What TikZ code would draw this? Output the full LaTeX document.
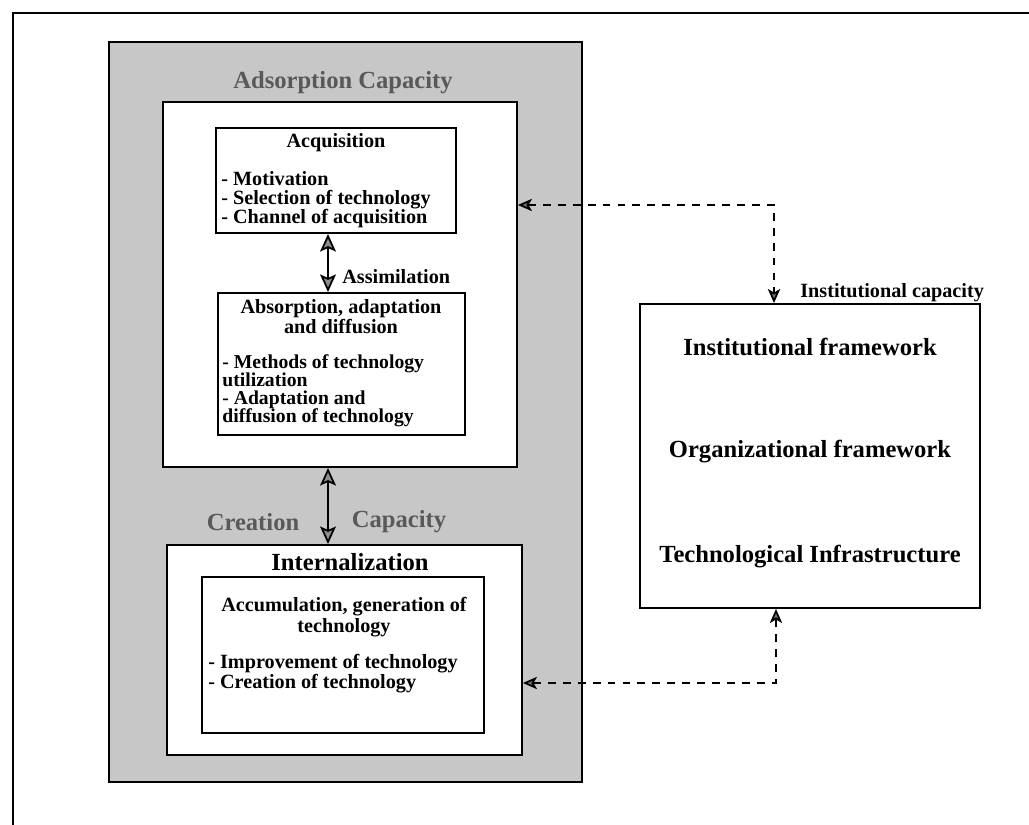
\documentclass[tikz,border=0pt]{standalone}
\usepackage{fontspec}
\setmainfont{Liberation Serif}
\usetikzlibrary{arrows.meta,positioning}

\begin{document}
\begin{tikzpicture}[x=0.02cm,y=-0.02cm,
        box/.style={draw,line width=1.1pt,fill=white,inner sep=0pt},
        txt/.style={inner sep=0pt,font=\fontsize{11.5}{10.5}\selectfont\bfseries},
        head/.style={inner sep=0pt,font=\fontsize{14}{16}\selectfont\bfseries},
        grayhead/.style={head,text=black!65},
        dbl/.style={line width=1pt,{Stealth[length=10pt,width=9pt,inset=2pt,fill=black!45]}-{Stealth[length=10pt,width=9pt,inset=2pt,fill=black!45]}},
        link/.style={line width=1pt,dash pattern=on 4.5pt off 4pt,{Stealth[length=8pt,width=7pt,inset=2pt,fill=black!55]}-{Stealth[length=8pt,width=7pt,inset=2pt,fill=black!55]}}]
        \useasboundingbox (0,0) rectangle (1029,825);
        \draw[line width=1pt] (1029,13) -- (13,13) -- (13,825);

        \node[box,fill=black!22,minimum width=9.46cm,minimum height=14.8cm] (cap) at (345.5,412) {};
        \node[box,minimum width=7.08cm,minimum height=7.3cm] (absbox) at (340,284.5) {};
        \node[box,minimum width=7.1cm,minimum height=4.2cm] (intbox) at (344.5,650) {};
        \node[box,minimum width=4.8cm,minimum height=2.1cm] (acq) at (336,180.5) {};
        \node[box,minimum width=4.94cm,minimum height=2.84cm] (adapt) at (341.5,364) {};
        \node[box,minimum width=5.64cm,minimum height=3.12cm] (accum) at (343,655) {};
        \node[box,minimum width=6.8cm,minimum height=6.08cm] (inst) at (810,456) {};

        \node[grayhead] (captitle) at (343,83) {Adsorption Capacity};
        \node[txt] (acqtitle) at (336,143) {Acquisition};
        \node[txt,align=left,anchor=west,font=\fontsize{11.5}{10.8}\selectfont\bfseries] (acqlist) at (221,200) {- Motivation\\- Selection of technology\\- Channel of acquisition};
        \node[txt,anchor=west] (assim) at (342,277) {Assimilation};
        \node[txt,align=center,font=\fontsize{11.5}{10}\selectfont\bfseries] (adapttitle) at (341,316.5) {Absorption, adaptation\\and diffusion};
        \node[txt,align=left,anchor=west,font=\fontsize{11.2}{10.3}\selectfont\bfseries] (adaptlist) at (222,391) {- Methods of technology\\utilization\\- Adaptation and\\diffusion of technology};
        \node[grayhead] (crea) at (253,522) {Creation};
        \node[grayhead] (capa) at (399,522) {Capacity};
        \node[head] (inttitle) at (350,562) {Internalization};
        \node[txt,align=center,font=\fontsize{11.5}{9.6}\selectfont\bfseries] (accumtitle) at (344,617) {Accumulation, generation of\\technology};
        \node[txt,align=left,anchor=west,font=\fontsize{11.5}{9.6}\selectfont\bfseries] (accumlist) at (208,673.5) {- Improvement of technology\\- Creation of technology};
        \node[head] (instfw) at (810,347) {Institutional framework};
        \node[head] (orgfw) at (810,452) {Organizational framework};
        \node[head] (techinf) at (810,557) {Technological Infrastructure};
        \node[txt,anchor=west] (instcap) at (800,293) {Institutional capacity};

        \coordinate (ax) at (328,0);
        \draw[dbl] (acq.south -| ax) -- (adapt.north -| ax);
        \draw[dbl] (absbox.south -| ax) -- (intbox.north -| ax);
        \coordinate (tc) at (774,205);
        \coordinate (bc) at (776,683);
        \draw[link] (absbox.east |- tc) -- (tc) -- (tc |- inst.north);
        \draw[link] (intbox.east |- bc) -- (bc) -- (bc |- inst.south);
\end{tikzpicture}
\end{document}
